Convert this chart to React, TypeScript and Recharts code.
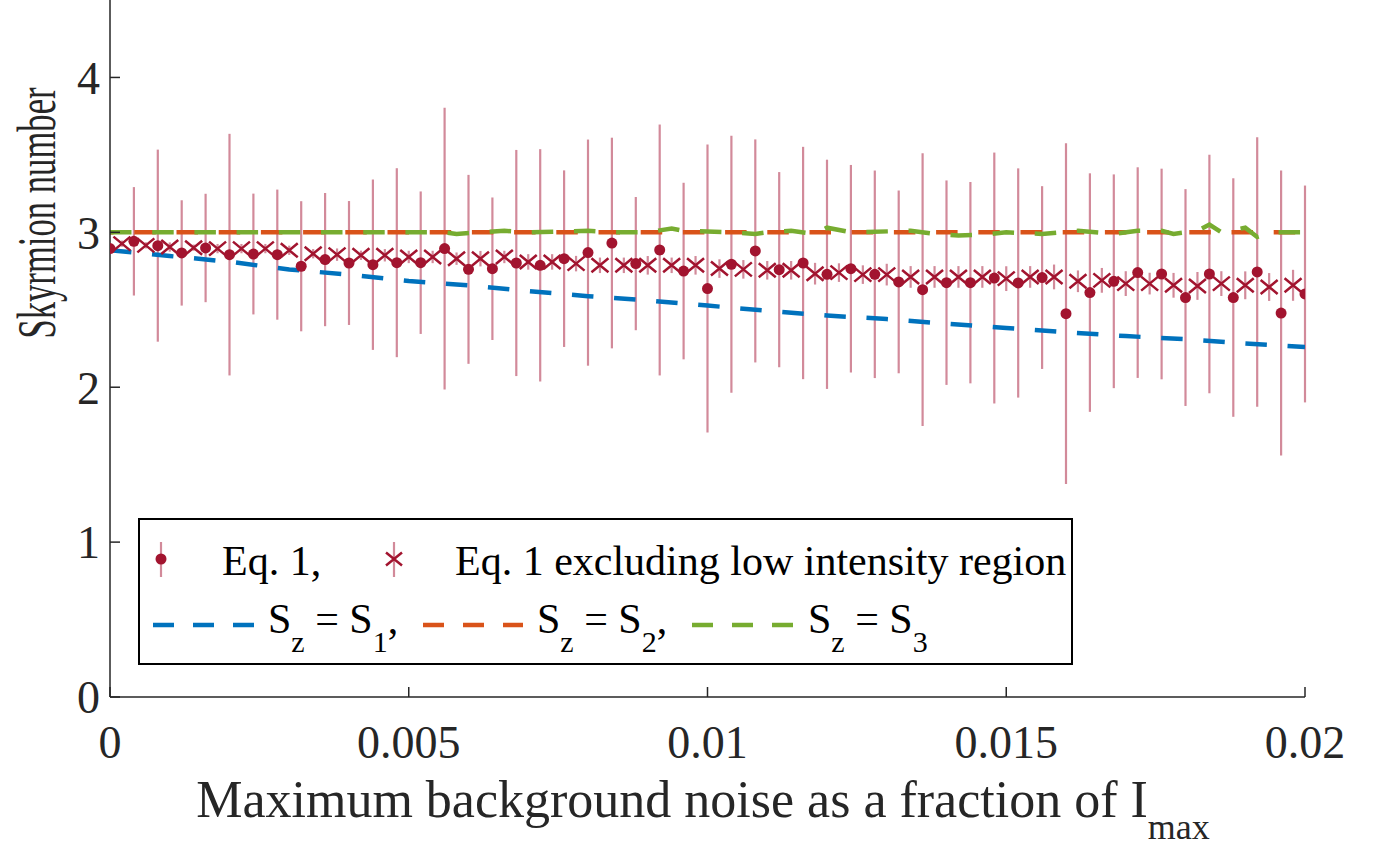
import React from 'react';
import { ComposedChart, Scatter, Line, XAxis, YAxis, ErrorBar, Legend } from 'recharts';

// noise levels: Eq. 1 at every 0.0004, the "excluding" run shifted by half a step
const NOISE_STEP = 0.0004;

const eq1Values = [
  2.895, 2.942, 2.914, 2.867, 2.899, 2.856, 2.86, 2.856, 2.781, 2.824,
  2.802, 2.791, 2.804, 2.804, 2.895, 2.761, 2.765, 2.802, 2.787, 2.83,
  2.869, 2.931, 2.798, 2.886, 2.75, 2.637, 2.794, 2.88, 2.759, 2.802,
  2.729, 2.765, 2.729, 2.68, 2.63, 2.675, 2.675, 2.705, 2.673, 2.708,
  2.475, 2.611, 2.684, 2.74, 2.731, 2.579, 2.731, 2.579, 2.744, 2.479,
  2.602,
];
const eq1Errors = [
  0, 0.35, 0.62, 0.34, 0.35, 0.78, 0.39, 0.42, 0.42, 0.43,
  0.4, 0.55, 0.61, 0.46, 0.91, 0.61, 0.46, 0.73, 0.75, 0.57,
  0.73, 0.68, 0.43, 0.81, 0.57, 0.93, 0.83, 0.72, 0.63, 0.75,
  0.74, 0.67, 0.67, 0.59, 0.88, 0.66, 0.65, 0.81, 0.74, 0.59,
  1.1, 0.77, 0.69, 0.68, 0.68, 0.7, 0.77, 0.77, 0.87, 0.92,
  0.7,
];

const exclValues = [
  2.927, 2.916, 2.905, 2.901, 2.895, 2.895, 2.895, 2.884, 2.862, 2.856,
  2.852, 2.852, 2.841, 2.841, 2.83, 2.83, 2.841, 2.809, 2.809, 2.798,
  2.787, 2.787, 2.787, 2.787, 2.787, 2.766, 2.761, 2.755, 2.755, 2.733,
  2.74, 2.727, 2.727, 2.712, 2.712, 2.712, 2.712, 2.701, 2.712, 2.712,
  2.684, 2.69, 2.669, 2.669, 2.658, 2.654, 2.669, 2.658, 2.647, 2.658,
];
const exclErrors = [
  0.02, 0.02, 0.03, 0.02, 0.03, 0.03, 0.03, 0.03, 0.03, 0.04,
  0.03, 0.04, 0.04, 0.04, 0.04, 0.05, 0.04, 0.05, 0.05, 0.05,
  0.05, 0.05, 0.06, 0.05, 0.06, 0.06, 0.06, 0.06, 0.06, 0.07,
  0.06, 0.06, 0.07, 0.07, 0.07, 0.07, 0.07, 0.08, 0.07, 0.08,
  0.07, 0.08, 0.08, 0.07, 0.08, 0.09, 0.08, 0.09, 0.09, 0.1,
];

const szNoise = [
  0, 0.001, 0.002, 0.003, 0.004, 0.005, 0.006, 0.007, 0.008, 0.009, 0.01,
  0.011, 0.012, 0.013, 0.014, 0.015, 0.016, 0.017, 0.018, 0.019, 0.02,
];
const sz1Values = [
  2.885, 2.847, 2.81, 2.76, 2.727, 2.686, 2.658, 2.62, 2.588, 2.56, 2.527,
  2.494, 2.463, 2.44, 2.41, 2.382, 2.355, 2.33, 2.31, 2.283, 2.26,
];
const sz2Values = [
  3, 3, 3, 3, 3, 3, 3, 3, 3, 3, 3,
  3, 3, 3, 3, 3, 3, 3, 3, 3, 3,
];

const sz3Noise = [
  0, 0.0056, 0.0058, 0.0062, 0.0066, 0.007, 0.008, 0.0084, 0.009, 0.0094,
  0.0096, 0.0104, 0.0108, 0.011, 0.0114, 0.0118, 0.012, 0.0124, 0.0134, 0.0138,
  0.0142, 0.0146, 0.015, 0.0156, 0.0162, 0.0168, 0.0172, 0.0176, 0.0178, 0.018,
  0.0182, 0.0184, 0.0186, 0.019, 0.0192, 0.0194, 0.02,
];
const sz3Values = [
  3, 3, 2.99, 3, 3.01, 3, 3.01, 3, 3, 3.025,
  3.01, 3, 2.99, 3, 3.01, 2.99, 3.03, 3, 3.01, 2.99,
  2.98, 2.985, 3, 2.99, 3.01, 2.99, 3.01, 3.01, 2.99, 3,
  3.01, 3.05, 3, 3.03, 2.97, 3, 3,
];

const xTicks = [0, 0.005, 0.01, 0.015, 0.02];
const yTicks = [0, 1, 2, 3, 4];

const eq1Data = eq1Values.map((v, i) => ({ x: i * NOISE_STEP, y: v, err: eq1Errors[i] }));
const exclData = exclValues.map((v, i) => ({ x: NOISE_STEP / 2 + i * NOISE_STEP, y: v, err: exclErrors[i] }));
const sz1Data = szNoise.map((x, i) => ({ x, y: sz1Values[i] }));
const sz2Data = szNoise.map((x, i) => ({ x, y: sz2Values[i] }));
const sz3Data = sz3Noise.map((x, i) => ({ x, y: sz3Values[i] }));

const FONT = '"Liberation Serif", "Times New Roman", serif';
const RED = '#A2142F';
const PINK = '#D28A9A';
const BLUE = '#0072BD';
const ORANGE = '#D95319';
const GREEN = '#77AC30';
const AXIS = '#262626';

const Dot = (props: any) => <circle cx={props.cx} cy={props.cy} r={5.5} fill={RED} />;

const Cross = (props: any) => {
  const { cx, cy } = props;
  return (
    <path
      d={`M${cx - 8.5},${cy - 7}L${cx + 8.5},${cy + 7}M${cx - 8.5},${cy + 7}L${cx + 8.5},${cy - 7}`}
      stroke={RED}
      strokeWidth={2.5}
      fill="none"
    />
  );
};

// subscripted "S_z = S_n," legend text
function SzText({ x, n }: { x: number; n: string }) {
  return (
    <text x={x} y={115} fontSize={42} fontFamily={FONT} fill="#000">
      S
      <tspan dy={19} fontSize={30}>z</tspan>
      <tspan dy={-19} fontSize={42}>{' = S'}</tspan>
      <tspan dy={19} fontSize={30}>{n}</tspan>
      <tspan dy={-19} fontSize={42}>,</tspan>
    </text>
  );
}

function LegendBox() {
  return (
    <svg width={935} height={147} style={{ display: 'block' }}>
      <rect x={1} y={1} width={933} height={145} fill="#fff" stroke="#000" strokeWidth={2} />
      {/* row 1 */}
      <line x1={23} y1={24} x2={23} y2={59} stroke={PINK} strokeWidth={2.2} />
      <circle cx={23} cy={41} r={5.5} fill={RED} />
      <text x={84} y={57} fontSize={42} fontFamily={FONT} fill="#000">Eq. 1,</text>
      <line x1={256} y1={24} x2={256} y2={59} stroke={PINK} strokeWidth={2.2} />
      <path d="M248,34.5L264,47.5M248,47.5L264,34.5" stroke={RED} strokeWidth={2.5} fill="none" />
      <text x={317} y={57} fontSize={42} fontFamily={FONT} fill="#000">
        Eq. 1 excluding low intensity region
      </text>
      {/* row 2 */}
      <line x1={15} y1={107} x2={116} y2={107} stroke={BLUE} strokeWidth={4.5} strokeDasharray="21 19" />
      <SzText x={130} n="1" />
      <line x1={285} y1={107} x2={385} y2={107} stroke={ORANGE} strokeWidth={4.5} strokeDasharray="21 19" />
      <SzText x={399} n="2" />
      <line x1={554} y1={107} x2={655} y2={107} stroke={GREEN} strokeWidth={4.5} strokeDasharray="21 19" />
      <text x={670} y={115} fontSize={42} fontFamily={FONT} fill="#000">
        S
        <tspan dy={19} fontSize={30}>z</tspan>
        <tspan dy={-19} fontSize={42}>{' = S'}</tspan>
        <tspan dy={19} fontSize={30}>3</tspan>
      </text>
    </svg>
  );
}

const XTitle = () => (
  <text x={703} y={817} textAnchor="middle" fontSize={52} fontFamily={FONT} fill={AXIS}>
    Maximum background noise as a fraction of I
    <tspan dy={22} fontSize={36}>max</tspan>
  </text>
);

// the reference label is squeezed along its baseline
const YTitle = () => (
  <text
    x={0}
    y={0}
    transform="translate(55 213) rotate(-90) scale(0.63 1)"
    textAnchor="middle"
    fontSize={55}
    fontFamily={FONT}
    fill={AXIS}
  >
    Skyrmion number
  </text>
);

export default function App() {
  return (
    <div style={{ position: 'absolute', left: 0, top: 0, width: 1380, height: 849, background: '#fff' }}>
      <ComposedChart width={1380} height={849} margin={{ top: 0, right: 75, bottom: 0, left: 0 }}>
        <XAxis
          type="number"
          dataKey="x"
          domain={[0, 0.02]}
          ticks={xTicks}
          allowDataOverflow
          height={152}
          tickSize={-10}
          tickMargin={38}
          tickFormatter={(v: number) => String(v)}
          tick={{ fill: AXIS, fontSize: 46, fontFamily: FONT }}
          stroke={AXIS}
          strokeWidth={1.5}
          label={XTitle}
        />
        <YAxis
          dataKey="y"
          type="number"
          domain={[0, 4.5]}
          ticks={yTicks}
          allowDataOverflow
          width={110}
          tickSize={-10}
          tickMargin={20}
          tick={{ fill: AXIS, fontSize: 46, fontFamily: FONT }}
          stroke={AXIS}
          strokeWidth={1.5}
          label={YTitle}
        />
        <YAxis
          yAxisId="r"
          orientation="right"
          type="number"
          domain={[0, 4.5]}
          ticks={yTicks}
          allowDataOverflow
          width={0}
          tickSize={-10}
          tick={false}
          stroke={AXIS}
          strokeWidth={1.5}
        />
        <Legend
          layout="horizontal"
          verticalAlign="middle"
          align="center"
          content={() => <LegendBox />}
          wrapperStyle={{ position: 'absolute', left: 138, top: 518, width: 935, height: 147 }}
        />
        <Scatter data={exclData} shape={Cross} isAnimationActive={false} legendType="none">
          <ErrorBar dataKey="err" direction="y" width={0} stroke={PINK} strokeWidth={2.2} />
        </Scatter>
        <Scatter data={eq1Data} shape={Dot} isAnimationActive={false} legendType="none">
          <ErrorBar dataKey="err" direction="y" width={0} stroke={PINK} strokeWidth={2.2} />
        </Scatter>
        <Line
          data={sz1Data}
          dataKey="y"
          type="linear"
          dot={false}
          stroke={BLUE}
          strokeWidth={4.5}
          strokeDasharray="21.5 20.7"
          isAnimationActive={false}
        />
        <Line
          data={sz2Data}
          dataKey="y"
          type="linear"
          dot={false}
          stroke={ORANGE}
          strokeWidth={4.5}
          strokeDasharray="21.5 20.7"
          strokeDashoffset={-24.3}
          isAnimationActive={false}
        />
        <Line
          data={sz3Data}
          dataKey="y"
          type="linear"
          dot={false}
          stroke={GREEN}
          strokeWidth={4.5}
          strokeDasharray="21.5 20.7"
          isAnimationActive={false}
        />
      </ComposedChart>
    </div>
  );
}
